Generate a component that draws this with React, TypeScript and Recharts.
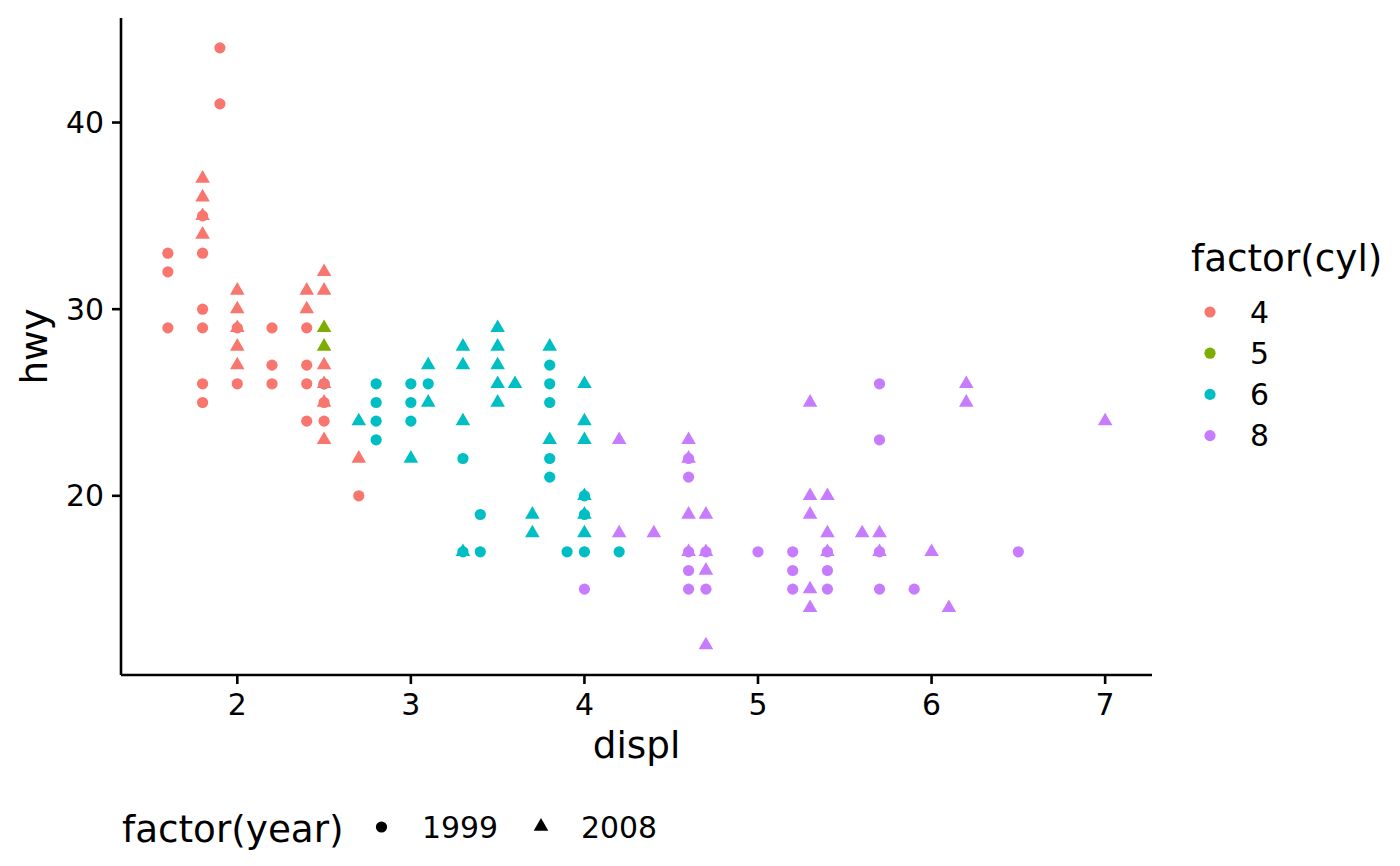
import React from 'react';
import { ScatterChart, Scatter, XAxis, YAxis } from 'recharts';

// mpg: displ vs hwy, colour = cyl, shape = year
const cyl4Y1999: [number, number][] = [
  [1.6, 33], [1.6, 32], [1.6, 29], [1.8, 35], [1.8, 33], [1.8, 30], [1.8, 29], [1.8, 26], [1.8, 25],
  [1.9, 44], [1.9, 41], [2.0, 29], [2.0, 26], [2.2, 29], [2.2, 27], [2.2, 26],
  [2.4, 29], [2.4, 27], [2.4, 26], [2.4, 24], [2.5, 26], [2.5, 25], [2.5, 24], [2.7, 20],
];
const cyl4Y2008: [number, number][] = [
  [1.8, 37], [1.8, 36], [1.8, 35], [1.8, 34], [2.0, 31], [2.0, 30], [2.0, 29], [2.0, 28], [2.0, 27],
  [2.4, 31], [2.4, 30], [2.5, 32], [2.5, 31], [2.5, 27], [2.5, 26], [2.5, 25], [2.5, 23], [2.7, 22],
];
const cyl5Y2008: [number, number][] = [[2.5, 29], [2.5, 28]];
const cyl6Y1999: [number, number][] = [
  [2.5, 26], [2.8, 26], [2.8, 25], [2.8, 24], [2.8, 23], [3.0, 26], [3.0, 25], [3.0, 24], [3.1, 26],
  [3.3, 22], [3.3, 17], [3.4, 19], [3.4, 17], [3.8, 27], [3.8, 26], [3.8, 25], [3.8, 22], [3.8, 21],
  [3.9, 17], [4.0, 20], [4.0, 19], [4.0, 17], [4.2, 17],
];
const cyl6Y2008: [number, number][] = [
  [2.7, 24], [3.0, 22], [3.1, 27], [3.1, 25], [3.3, 28], [3.3, 27], [3.3, 24], [3.3, 17],
  [3.5, 29], [3.5, 28], [3.5, 27], [3.5, 26], [3.5, 25], [3.6, 26], [3.7, 19], [3.7, 18],
  [3.8, 28], [3.8, 23], [4.0, 26], [4.0, 24], [4.0, 23], [4.0, 20], [4.0, 19], [4.0, 18],
];
const cyl8Y1999: [number, number][] = [
  [4.0, 15], [4.6, 22], [4.6, 21], [4.6, 17], [4.6, 16], [4.6, 15], [4.7, 17], [4.7, 15], [5.0, 17],
  [5.2, 17], [5.2, 16], [5.2, 15], [5.4, 17], [5.4, 16], [5.4, 15], [5.7, 26], [5.7, 23], [5.7, 17],
  [5.7, 15], [5.9, 15], [6.5, 17],
];
const cyl8Y2008: [number, number][] = [
  [4.2, 23], [4.2, 18], [4.4, 18], [4.6, 23], [4.6, 22], [4.6, 19], [4.6, 17], [4.7, 19], [4.7, 17],
  [4.7, 16], [4.7, 12], [5.3, 25], [5.3, 20], [5.3, 19], [5.3, 15], [5.3, 14], [5.4, 20], [5.4, 18],
  [5.4, 17], [5.6, 18], [5.7, 18], [5.7, 17], [6.0, 17], [6.1, 14], [6.2, 26], [6.2, 25], [7.0, 24],
];

const cylLevels = ['4', '5', '6', '8'];
const cylColors = ['#F8766D', '#7CAE00', '#00BFC4', '#C77CFF'];
const yearLevels = ['1999', '2008'];
const xTicks = [2, 3, 4, 5, 6, 7];
const yTicks = [20, 30, 40];

const FONT = 'DejaVu Sans';
const TITLE = 37.3;
const TEXT = 29.9;

const toPts = (arr: [number, number][]) => arr.map(([x, y]) => ({ x, y }));

const dotShape = (color: string) => (p: any) => (
  <circle cx={p.cx} cy={p.cy} r={5.6} fill={color} />
);
const triPoints = (cx: number, cy: number) =>
  `${cx},${cy - 8.4} ${cx - 7.3},${cy + 4.2} ${cx + 7.3},${cy + 4.2}`;
const triShape = (color: string) => (p: any) => (
  <polygon points={triPoints(p.cx, p.cy)} fill={color} />
);

const series = [
  { data: cyl6Y1999, color: cylColors[2], tri: false },
  { data: cyl6Y2008, color: cylColors[2], tri: true },
  { data: cyl4Y1999, color: cylColors[0], tri: false },
  { data: cyl4Y2008, color: cylColors[0], tri: true },
  { data: cyl5Y2008, color: cylColors[1], tri: true },
  { data: cyl8Y1999, color: cylColors[3], tri: false },
  { data: cyl8Y2008, color: cylColors[3], tri: true },
];

const axisStyle = { stroke: '#000', strokeWidth: 2.6 };
const tickStyle = { fill: '#000', fontSize: TEXT, fontFamily: FONT };

export default function App() {
  return (
    <div style={{ position: 'absolute', left: 0, top: 0, width: 1400, height: 866, background: '#fff' }}>
      <ScatterChart width={1400} height={866} margin={{ top: 18, right: 248, bottom: 151, left: 0 }}>
        <XAxis
          type="number"
          dataKey="x"
          domain={[1.33, 7.27]}
          ticks={xTicks}
          allowDataOverflow
          height={40}
          tickSize={9}
          tickMargin={10}
          axisLine={axisStyle}
          tickLine={axisStyle}
          tick={tickStyle}
        />
        <YAxis
          type="number"
          dataKey="y"
          domain={[10.4, 45.6]}
          ticks={yTicks}
          allowDataOverflow
          width={121}
          tickSize={9}
          tickMargin={8}
          axisLine={axisStyle}
          tickLine={axisStyle}
          tick={tickStyle}
        />
        {series.map((s, i) => (
          <Scatter
            key={i}
            data={toPts(s.data)}
            fill={s.color}
            shape={s.tri ? triShape(s.color) : dotShape(s.color)}
            isAnimationActive={false}
          />
        ))}
      </ScatterChart>
      <svg
        width={1400}
        height={866}
        style={{ position: 'absolute', left: 0, top: 0, pointerEvents: 'none' }}
        fontFamily={FONT}
      >
        <text x={636.5} y={758} textAnchor="middle" fontSize={TITLE} fill="#000">displ</text>
        <text transform="translate(47, 346.5) rotate(-90)" textAnchor="middle" fontSize={TITLE} fill="#000">hwy</text>

        <text x={1191} y={271} fontSize={TITLE} fill="#000">factor(cyl)</text>
        {cylLevels.map((lv, i) => {
          const cy = 312 + i * 41.2;
          return (
            <g key={lv}>
              <circle cx={1210} cy={cy} r={5.6} fill={cylColors[i]} />
              <text x={1250} y={cy + 10.8} fontSize={TEXT} fill="#000">{lv}</text>
            </g>
          );
        })}

        <text x={122} y={842} fontSize={TITLE} fill="#000">factor(year)</text>
        <circle cx={381.5} cy={827} r={5.6} fill="#000" />
        <text x={422} y={837.5} fontSize={TEXT} fill="#000">{yearLevels[0]}</text>
        <polygon points={triPoints(541, 826.5)} fill="#000" />
        <text x={581} y={837.5} fontSize={TEXT} fill="#000">{yearLevels[1]}</text>
      </svg>
    </div>
  );
}
